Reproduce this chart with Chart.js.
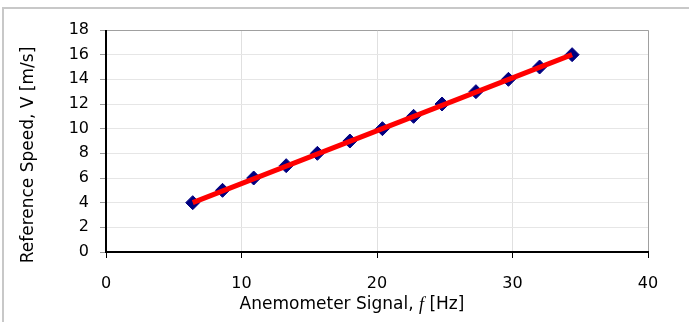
<!DOCTYPE html>
<html>
<head>
<meta charset="utf-8">
<script src="https://cdn.jsdelivr.net/npm/chart.js@4.4.0/dist/chart.umd.min.js"></script>
<style>
    html, body { margin: 0; padding: 0; background: #fff; }
    #wrap {
        position: relative;
        width: 689px;
        height: 322px;
    }
    #frame {
        position: absolute;
        left: 2px;
        top: 7px;
        right: 0;
        bottom: 0;
        border-top: 2px solid #c8c8c8;
        border-left: 2px solid #c8c8c8;
        pointer-events: none;
    }
</style>
</head>
<body>
<div id="wrap">
    <canvas id="myChart" width="689" height="322"></canvas>
    <div id="frame"></div>
</div>
<script>
// measured points (anemometer frequency vs reference speed)
const signalHz = [6.4, 8.6, 10.9, 13.3, 15.6, 18.0, 20.4, 22.7, 24.8, 27.3, 29.7, 32.0, 34.4];
const speedMs = [4, 5, 6, 7, 8, 9, 10, 11, 12, 13, 14, 15, 16];

// trend line end points
const fitHz = [6.4, 34.4];
const fitMs = [4.0, 16.0];

const xTicks = [0, 10, 20, 30, 40];
const yTicks = [0, 2, 4, 6, 8, 10, 12, 14, 16, 18];

const xTitleParts = ['Anemometer Signal, ', 'f', ' [Hz]'];
const yTitle = 'Reference Speed, V [m/s]';

const fontFamily = 'DejaVu Sans, Verdana, sans-serif';
const tickFont = { family: fontFamily, size: 16 };
const titleSize = 17;

document.addEventListener('DOMContentLoaded', function() {
    const ctx = document.getElementById('myChart').getContext('2d');

    // plot frame: black left/bottom, grey top/right
    const frameLines = {
        id: 'frameLines',
        afterDatasetsDraw(chart) {
            const a = chart.chartArea;
            const c = chart.ctx;
            c.save();
            c.lineWidth = 1;
            c.strokeStyle = '#a0a0a0';
            c.beginPath();
            c.moveTo(a.left, a.top + 0.5);
            c.lineTo(a.right + 0.5, a.top + 0.5);
            c.lineTo(a.right + 0.5, a.bottom);
            c.stroke();
            c.lineWidth = 2;
            c.strokeStyle = '#000';
            c.beginPath();
            c.moveTo(a.left, a.top);
            c.lineTo(a.left, a.bottom);
            c.lineTo(a.right + 1, a.bottom);
            c.stroke();
            c.restore();
        }
    };

    // axis titles (x has an italic serif "f")
    const axisTitles = {
        id: 'axisTitles',
        afterDraw(chart) {
            const c = chart.ctx;
            const fonts = [
                titleSize + 'px ' + fontFamily,
                'italic ' + (titleSize + 1) + 'px "Liberation Serif", "Times New Roman", serif',
                titleSize + 'px ' + fontFamily
            ];
            c.save();
            c.fillStyle = '#000';
            c.textBaseline = 'middle';
            c.textAlign = 'left';
            let total = 0;
            const widths = xTitleParts.map((t, i) => {
                c.font = fonts[i];
                const w = c.measureText(t).width;
                total += w;
                return w;
            });
            let x = 352 - total / 2;
            xTitleParts.forEach((t, i) => {
                c.font = fonts[i];
                c.fillText(t, x, 305);
                x += widths[i];
            });

            c.translate(29, 155);
            c.rotate(-Math.PI / 2);
            c.textAlign = 'center';
            c.font = titleSize + 'px ' + fontFamily;
            c.fillText(yTitle, 0, 0);
            c.restore();
        }
    };

    new Chart(ctx, {
        type: 'scatter',
        data: {
            datasets: [
                {
                    label: 'fit',
                    data: fitHz.map((x, i) => ({ x: x, y: fitMs[i] })),
                    showLine: true,
                    borderColor: '#ff0000',
                    borderWidth: 5,
                    pointRadius: 0,
                    order: 1
                },
                {
                    label: 'measured',
                    data: signalHz.map((x, i) => ({ x: x, y: speedMs[i] })),
                    pointStyle: 'rectRot',
                    pointRadius: 7,
                    backgroundColor: '#000080',
                    borderColor: '#000080',
                    borderWidth: 1,
                    order: 2
                }
            ]
        },
        options: {
            responsive: false,
            animation: false,
            layout: { padding: { left: 0, right: 41, top: 30, bottom: 0 } },
            plugins: {
                legend: { display: false },
                tooltip: { enabled: false }
            },
            scales: {
                x: {
                    type: 'linear',
                    min: 0,
                    max: 40,
                    afterBuildTicks: axis => { axis.ticks = xTicks.map(v => ({ value: v })); },
                    afterFit: axis => { axis.height = 70; },
                    grid: {
                        color: '#e0e0e0',
                        tickColor: '#000',
                        tickLength: 6,
                        drawTicks: true
                    },
                    border: { display: false },
                    ticks: { color: '#000', font: tickFont, padding: 16, maxRotation: 0 },
                    title: { display: false }
                },
                y: {
                    type: 'linear',
                    min: 0,
                    max: 18,
                    afterBuildTicks: axis => { axis.ticks = yTicks.map(v => ({ value: v })); },
                    afterFit: axis => { axis.width = 106; },
                    grid: {
                        color: '#e6e6e6',
                        tickColor: '#999',
                        tickLength: 6
                    },
                    border: { display: false },
                    ticks: { color: '#000', font: tickFont, padding: 11 },
                    title: { display: false }
                }
            }
        },
        plugins: [frameLines, axisTitles]
    });
});
</script>
</body>
</html>
